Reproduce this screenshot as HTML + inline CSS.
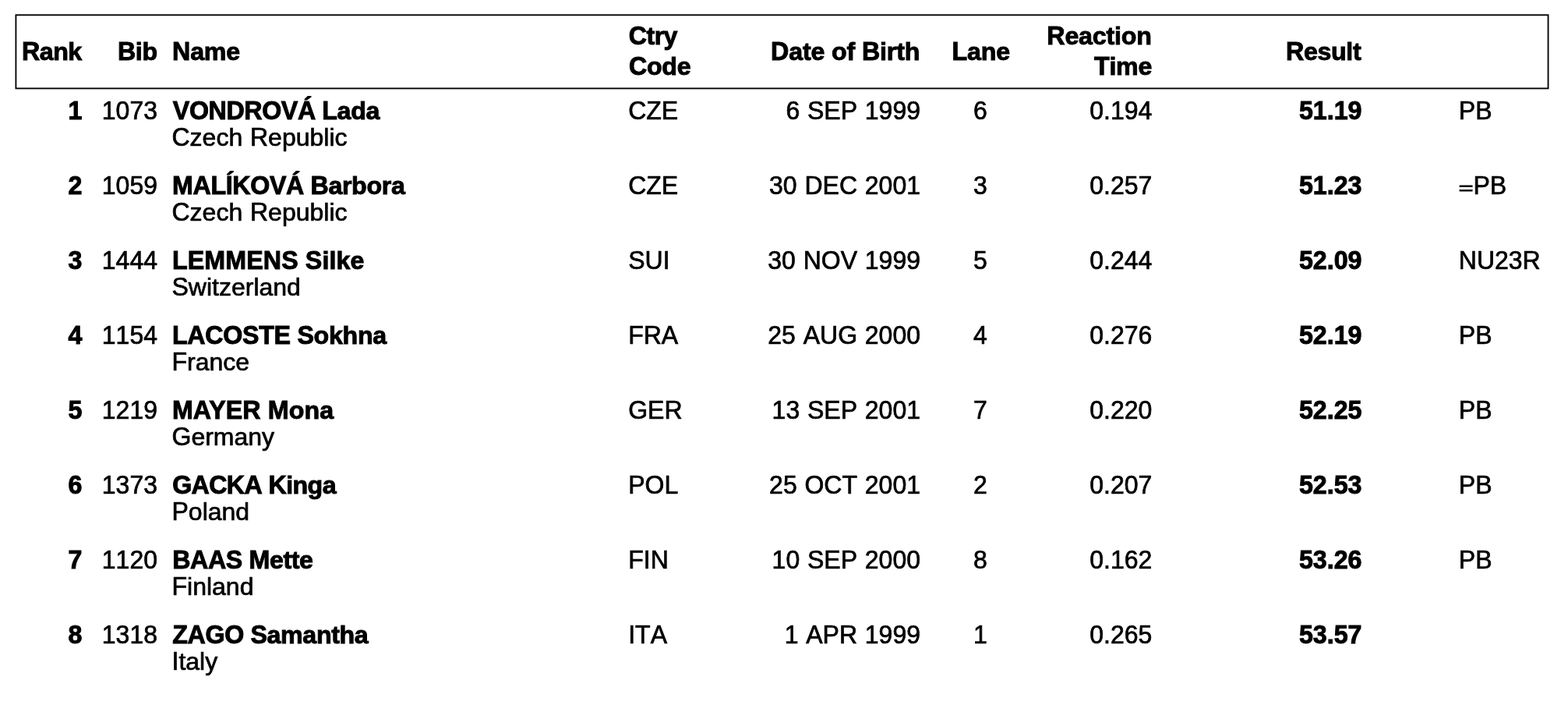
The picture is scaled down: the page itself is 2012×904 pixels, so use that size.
<!DOCTYPE html>
<html lang="en"><head><meta charset="utf-8"><title>Results</title>
<style>
html,body{margin:0;padding:0;background:#fff;}
body{width:2012px;height:904px;position:relative;overflow:hidden;font-family:"Liberation Sans",Arial,Helvetica,sans-serif;color:#000;}
.t{position:absolute;white-space:nowrap;font-size:32.0px;line-height:40px;height:40px;font-kerning:none;font-variant-ligatures:none;-webkit-text-stroke:0.7px #000;word-spacing:0.9px;}
.b{font-weight:bold;font-kerning:normal;font-size:32.2px;-webkit-text-stroke:0.95px #000;word-spacing:0;}
.u{display:inline-block;transform:scaleY(1.05);transform-origin:0 31.0px;}
.eq{display:inline-block;transform:translateY(3.3px) scaleY(0.70);-webkit-text-stroke:1.35px #000;transform-origin:50% 50%;}
.wrap{position:absolute;left:0;top:0;width:2012px;height:904px;}
.box{position:absolute;left:0;top:0;}
</style></head><body>
<svg class="box" width="2012" height="130" viewBox="0 0 2012 130"><rect x="20.4" y="19.25" width="1966.15" height="94.15" fill="none" stroke="#000" stroke-width="1.85"/></svg>
<div class="wrap">
<div id="h_rank" class="t b" style="left:28.02px;letter-spacing:-0.489px;top:46.00px"><span class="u">R</span>ank</div>
<div id="h_bib" class="t b" style="right:1810.29px;letter-spacing:-0.349px;top:46.00px"><span class="u">B</span>ib</div>
<div id="h_name" class="t b" style="left:221.07px;letter-spacing:-0.178px;top:46.00px"><span class="u">N</span>ame</div>
<div id="h_ctry" class="t b" style="left:806.85px;letter-spacing:-0.575px;top:26.00px"><span class="u">C</span>try</div>
<div id="h_code" class="t b" style="left:806.89px;letter-spacing:-0.223px;top:65.00px"><span class="u">C</span>ode</div>
<div id="h_dob" class="t b" style="right:831.70px;letter-spacing:-0.149px;top:46.00px"><span class="u">D</span>ate of <span class="u">B</span>irth</div>
<div id="h_lane" class="t b" style="left:1108.65px;width:300px;text-align:center;letter-spacing:-0.171px;top:46.00px"><span class="u">L</span>ane</div>
<div id="h_reaction" class="t b" style="right:534.35px;letter-spacing:-0.206px;top:26.00px"><span class="u">R</span>eaction</div>
<div id="h_time" class="t b" style="right:533.96px;letter-spacing:-0.272px;top:65.00px"><span class="u">T</span>ime</div>
<div id="h_result" class="t b" style="right:265.74px;letter-spacing:-0.371px;top:46.00px"><span class="u">R</span>esult</div>
<div id="r0" class="t b" style="right:1906.50px;top:122.00px"><span class="u">1</span></div>
<div id="b0" class="t" style="right:1810.00px;top:122.00px"><span class="u">1073</span></div>
<div id="n0" class="t b" style="left:221.85px;letter-spacing:-0.385px;top:122.00px"><span class="u">VONDROVÁ</span> <span class="u">L</span>ada</div>
<div id="c0" class="t" style="left:220.50px;top:156.00px"><span class="u">C</span>zech <span class="u">R</span>epublic</div>
<div id="k0" class="t" style="left:806.20px;top:122.00px"><span class="u">CZE</span></div>
<div id="d0" class="t" style="right:831.00px;top:122.00px"><span class="u">6</span> <span class="u">SEP</span> <span class="u">1999</span></div>
<div id="l0" class="t" style="left:1108.00px;width:300px;text-align:center;top:122.00px"><span class="u">6</span></div>
<div id="t0" class="t" style="right:533.70px;top:122.00px"><span class="u">0.194</span></div>
<div id="s0" class="t b" style="right:264.50px;top:122.00px"><span class="u">51.19</span></div>
<div id="m0" class="t" style="left:1871.80px;top:122.00px"><span class="u">PB</span></div>
<div id="r1" class="t b" style="right:1906.50px;top:218.00px"><span class="u">2</span></div>
<div id="b1" class="t" style="right:1810.00px;top:218.00px"><span class="u">1059</span></div>
<div id="n1" class="t b" style="left:221.10px;letter-spacing:-0.357px;top:218.00px"><span class="u">MALÍKOVÁ</span> <span class="u">B</span>arbora</div>
<div id="c1" class="t" style="left:220.50px;top:252.00px"><span class="u">C</span>zech <span class="u">R</span>epublic</div>
<div id="k1" class="t" style="left:806.20px;top:218.00px"><span class="u">CZE</span></div>
<div id="d1" class="t" style="right:831.00px;top:218.00px"><span class="u">30</span> <span class="u">DEC</span> <span class="u">2001</span></div>
<div id="l1" class="t" style="left:1108.00px;width:300px;text-align:center;top:218.00px"><span class="u">3</span></div>
<div id="t1" class="t" style="right:533.70px;top:218.00px"><span class="u">0.257</span></div>
<div id="s1" class="t b" style="right:264.50px;top:218.00px"><span class="u">51.23</span></div>
<div id="m1" class="t" style="left:1871.80px;top:218.00px"><span class="eq">=</span><span class="u">PB</span></div>
<div id="r2" class="t b" style="right:1906.50px;top:314.00px"><span class="u">3</span></div>
<div id="b2" class="t" style="right:1810.00px;top:314.00px"><span class="u">1444</span></div>
<div id="n2" class="t b" style="left:220.96px;letter-spacing:0.122px;top:314.00px"><span class="u">LEMMENS</span> <span class="u">S</span>ilke</div>
<div id="c2" class="t" style="left:220.50px;top:348.00px"><span class="u">S</span>witzerland</div>
<div id="k2" class="t" style="left:806.20px;top:314.00px"><span class="u">SUI</span></div>
<div id="d2" class="t" style="right:831.00px;top:314.00px"><span class="u">30</span> <span class="u">NOV</span> <span class="u">1999</span></div>
<div id="l2" class="t" style="left:1108.00px;width:300px;text-align:center;top:314.00px"><span class="u">5</span></div>
<div id="t2" class="t" style="right:533.70px;top:314.00px"><span class="u">0.244</span></div>
<div id="s2" class="t b" style="right:264.50px;top:314.00px"><span class="u">52.09</span></div>
<div id="m2" class="t" style="left:1871.80px;top:314.00px"><span class="u">NU23R</span></div>
<div id="r3" class="t b" style="right:1906.50px;top:410.00px"><span class="u">4</span></div>
<div id="b3" class="t" style="right:1810.00px;top:410.00px"><span class="u">1154</span></div>
<div id="n3" class="t b" style="left:220.96px;letter-spacing:-0.285px;top:410.00px"><span class="u">LACOSTE</span> <span class="u">S</span>okhna</div>
<div id="c3" class="t" style="left:220.50px;top:444.00px"><span class="u">F</span>rance</div>
<div id="k3" class="t" style="left:806.20px;top:410.00px"><span class="u">FRA</span></div>
<div id="d3" class="t" style="right:831.00px;top:410.00px"><span class="u">25</span> <span class="u">AUG</span> <span class="u">2000</span></div>
<div id="l3" class="t" style="left:1108.00px;width:300px;text-align:center;top:410.00px"><span class="u">4</span></div>
<div id="t3" class="t" style="right:533.70px;top:410.00px"><span class="u">0.276</span></div>
<div id="s3" class="t b" style="right:264.50px;top:410.00px"><span class="u">52.19</span></div>
<div id="m3" class="t" style="left:1871.80px;top:410.00px"><span class="u">PB</span></div>
<div id="r4" class="t b" style="right:1906.50px;top:506.00px"><span class="u">5</span></div>
<div id="b4" class="t" style="right:1810.00px;top:506.00px"><span class="u">1219</span></div>
<div id="n4" class="t b" style="left:220.96px;letter-spacing:0.095px;top:506.00px"><span class="u">MAYER</span> <span class="u">M</span>ona</div>
<div id="c4" class="t" style="left:220.50px;top:540.00px"><span class="u">G</span>ermany</div>
<div id="k4" class="t" style="left:806.20px;top:506.00px"><span class="u">GER</span></div>
<div id="d4" class="t" style="right:831.00px;top:506.00px"><span class="u">13</span> <span class="u">SEP</span> <span class="u">2001</span></div>
<div id="l4" class="t" style="left:1108.00px;width:300px;text-align:center;top:506.00px"><span class="u">7</span></div>
<div id="t4" class="t" style="right:533.70px;top:506.00px"><span class="u">0.220</span></div>
<div id="s4" class="t b" style="right:264.50px;top:506.00px"><span class="u">52.25</span></div>
<div id="m4" class="t" style="left:1871.80px;top:506.00px"><span class="u">PB</span></div>
<div id="r5" class="t b" style="right:1906.50px;top:602.00px"><span class="u">6</span></div>
<div id="b5" class="t" style="right:1810.00px;top:602.00px"><span class="u">1373</span></div>
<div id="n5" class="t b" style="left:221.14px;letter-spacing:-0.595px;top:602.00px"><span class="u">GACKA</span> <span class="u">K</span>inga</div>
<div id="c5" class="t" style="left:220.50px;top:636.00px"><span class="u">P</span>oland</div>
<div id="k5" class="t" style="left:806.20px;top:602.00px"><span class="u">POL</span></div>
<div id="d5" class="t" style="right:831.00px;top:602.00px"><span class="u">25</span> <span class="u">OCT</span> <span class="u">2001</span></div>
<div id="l5" class="t" style="left:1108.00px;width:300px;text-align:center;top:602.00px"><span class="u">2</span></div>
<div id="t5" class="t" style="right:533.70px;top:602.00px"><span class="u">0.207</span></div>
<div id="s5" class="t b" style="right:264.50px;top:602.00px"><span class="u">52.53</span></div>
<div id="m5" class="t" style="left:1871.80px;top:602.00px"><span class="u">PB</span></div>
<div id="r6" class="t b" style="right:1906.50px;top:698.00px"><span class="u">7</span></div>
<div id="b6" class="t" style="right:1810.00px;top:698.00px"><span class="u">1120</span></div>
<div id="n6" class="t b" style="left:221.18px;letter-spacing:-0.379px;top:698.00px"><span class="u">BAAS</span> <span class="u">M</span>ette</div>
<div id="c6" class="t" style="left:220.50px;top:732.00px"><span class="u">F</span>inland</div>
<div id="k6" class="t" style="left:806.20px;top:698.00px"><span class="u">FIN</span></div>
<div id="d6" class="t" style="right:831.00px;top:698.00px"><span class="u">10</span> <span class="u">SEP</span> <span class="u">2000</span></div>
<div id="l6" class="t" style="left:1108.00px;width:300px;text-align:center;top:698.00px"><span class="u">8</span></div>
<div id="t6" class="t" style="right:533.70px;top:698.00px"><span class="u">0.162</span></div>
<div id="s6" class="t b" style="right:264.50px;top:698.00px"><span class="u">53.26</span></div>
<div id="m6" class="t" style="left:1871.80px;top:698.00px"><span class="u">PB</span></div>
<div id="r7" class="t b" style="right:1906.50px;top:794.00px"><span class="u">8</span></div>
<div id="b7" class="t" style="right:1810.00px;top:794.00px"><span class="u">1318</span></div>
<div id="n7" class="t b" style="left:221.30px;letter-spacing:-0.360px;top:794.00px"><span class="u">ZAGO</span> <span class="u">S</span>amantha</div>
<div id="c7" class="t" style="left:220.50px;top:828.00px"><span class="u">I</span>taly</div>
<div id="k7" class="t" style="left:806.20px;top:794.00px"><span class="u">ITA</span></div>
<div id="d7" class="t" style="right:831.00px;top:794.00px"><span class="u">1</span> <span class="u">APR</span> <span class="u">1999</span></div>
<div id="l7" class="t" style="left:1108.00px;width:300px;text-align:center;top:794.00px"><span class="u">1</span></div>
<div id="t7" class="t" style="right:533.70px;top:794.00px"><span class="u">0.265</span></div>
<div id="s7" class="t b" style="right:264.50px;top:794.00px"><span class="u">53.57</span></div>
</div>
</body></html>
